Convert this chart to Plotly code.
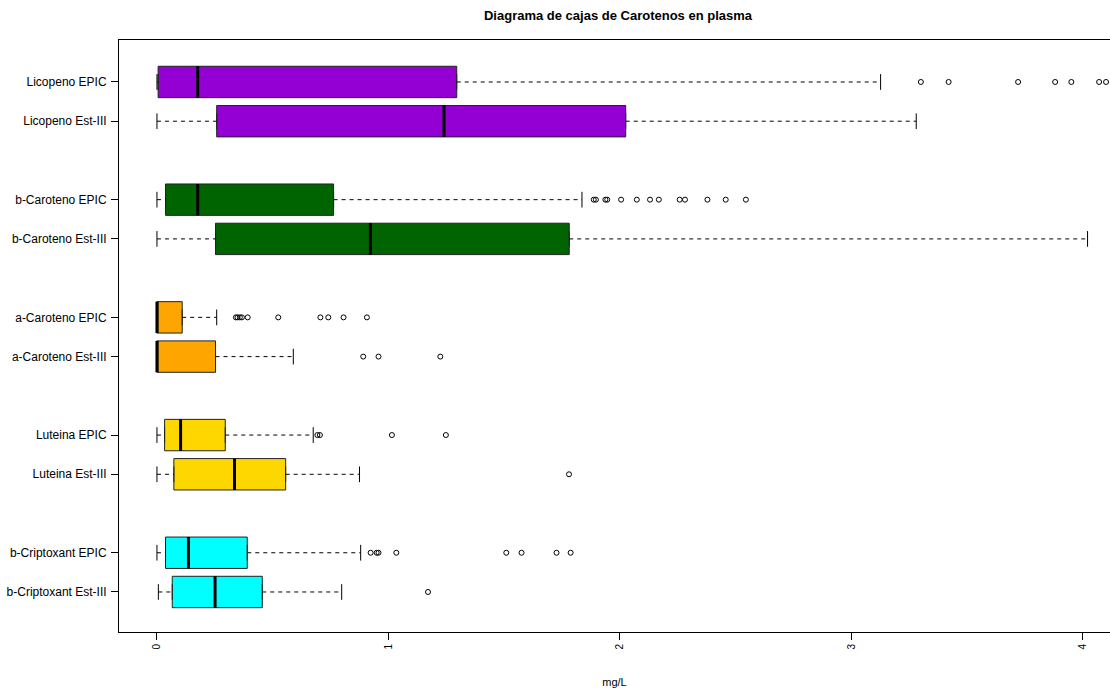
import plotly.graph_objects as go

# Carotenoid groups, top to bottom
labels = [
    "Licopeno EPIC", "Licopeno Est-III",
    "b-Caroteno EPIC", "b-Caroteno Est-III",
    "a-Caroteno EPIC", "a-Caroteno Est-III",
    "Luteina EPIC", "Luteina Est-III",
    "b-Criptoxant EPIC", "b-Criptoxant Est-III",
]
positions = [14, 13, 11, 10, 8, 7, 5, 4, 2, 1]
colors = [
    "#9400D3", "#9400D3",
    "#006400", "#006400",
    "#FFA500", "#FFA500",
    "#FFD700", "#FFD700",
    "#00FFFF", "#00FFFF",
]

# Five-number summaries (mg/L)
lower_whisker = [0.0, 0.0, 0.0, 0.0, 0.0, 0.0, 0.0, 0.0, 0.0, 0.006]
q1 = [0.005, 0.258, 0.037, 0.253, 0.0, 0.0, 0.033, 0.073, 0.037, 0.066]
median = [0.176, 1.24, 0.176, 0.922, 0.0, 0.0, 0.102, 0.335, 0.136, 0.251]
q3 = [1.295, 2.025, 0.763, 1.781, 0.109, 0.253, 0.295, 0.556, 0.39, 0.455]
upper_whisker = [3.126, 3.28, 1.836, 4.02, 0.258, 0.589, 0.675, 0.875, 0.88, 0.798]

# Outlying observations
outliers = [
    [3.30, 3.42, 3.72, 3.88, 3.95, 4.07, 4.10],
    [],
    [1.887, 1.896, 1.937, 1.945, 2.005, 2.073, 2.13, 2.168, 2.258, 2.281, 2.378, 2.457, 2.544],
    [],
    [0.341, 0.348, 0.358, 0.367, 0.392, 0.524, 0.706, 0.74, 0.806, 0.907],
    [0.891, 0.957, 1.224],
    [0.693, 0.704, 1.015, 1.248],
    [1.78],
    [0.923, 0.949, 0.957, 1.034, 1.509, 1.575, 1.726, 1.787],
    [1.171],
]

x_ticks = [0, 1, 2, 3, 4]

BOX_W = 0.8
STAPLE = 0.2
FONT = "Liberation Sans, Arial, sans-serif"

fig = go.Figure()

for i, pos in enumerate(positions):
    # dashed whiskers
    fig.add_trace(go.Scatter(
        x=[lower_whisker[i], q1[i], None, q3[i], upper_whisker[i]],
        y=[pos, pos, None, pos, pos],
        mode="lines", line=dict(color="black", width=1, dash="4px,4px"),
        hoverinfo="skip", showlegend=False,
    ))
    # whisker staples
    fig.add_trace(go.Scatter(
        x=[lower_whisker[i], lower_whisker[i], None, upper_whisker[i], upper_whisker[i]],
        y=[pos - STAPLE, pos + STAPLE, None, pos - STAPLE, pos + STAPLE],
        mode="lines", line=dict(color="black", width=1),
        hoverinfo="skip", showlegend=False,
    ))
    # box body
    fig.add_trace(go.Box(
        y=[pos], q1=[q1[i]], median=[median[i]], q3=[q3[i]],
        lowerfence=[q1[i]], upperfence=[q3[i]],
        orientation="h", width=BOX_W, boxpoints=False,
        fillcolor=colors[i], line=dict(color="#222222", width=1),
        name=labels[i], showlegend=False,
    ))
    # thick median bar
    fig.add_trace(go.Scatter(
        x=[median[i], median[i]], y=[pos - BOX_W / 2, pos + BOX_W / 2],
        mode="lines", line=dict(color="black", width=3),
        hoverinfo="skip", showlegend=False,
    ))
    # outliers
    if outliers[i]:
        fig.add_trace(go.Scatter(
            x=outliers[i], y=[pos] * len(outliers[i]),
            mode="markers",
            marker=dict(symbol="circle-open", size=5, color="black", line=dict(width=1)),
            showlegend=False,
        ))

fig.update_layout(
    width=1110, height=691,
    margin=dict(l=119, r=0, t=40, b=59),
    paper_bgcolor="white", plot_bgcolor="white",
    font=dict(family=FONT, color="black"),
    title=dict(
        text="<b>Diagrama de cajas de Carotenos en plasma</b>",
        font=dict(size=13, family=FONT, color="black"),
        x=618 / 1110, xref="container", xanchor="center",
        y=1 - 15 / 691, yref="container", yanchor="middle",
    ),
)

fig.update_xaxes(
    range=[-0.164, 4.117],
    tickvals=x_ticks, ticktext=[str(t) for t in x_ticks],
    tickangle=-90, tickfont=dict(size=10),
    ticks="outside", ticklen=7, tickcolor="black",
    showline=True, linecolor="black", linewidth=1, mirror=True,
    showgrid=False, zeroline=False,
    title=dict(text="mg/L", font=dict(size=11), standoff=29),
)

fig.update_yaxes(
    range=[-0.02, 15.07],
    tickvals=positions, ticktext=labels,
    tickfont=dict(size=12), ticklabelstandoff=2,
    ticks="outside", ticklen=7, tickcolor="black",
    showline=True, linecolor="black", linewidth=1,
    showgrid=False, zeroline=False,
)

fig.write_html("out.html")
